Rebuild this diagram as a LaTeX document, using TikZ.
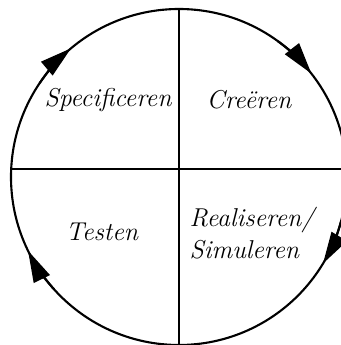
\documentclass[tikz,border=0pt]{standalone}
\usetikzlibrary{arrows.meta, calc}
\tikzset{
    >={Triangle[length=18pt, width=10pt]},
    fase/.style={font=\itshape\fontsize{14.7}{18.5}\selectfont, inner sep=0pt}
}
\begin{document}
\begin{tikzpicture}[x=0.02cm, y=0.02cm]
    \useasboundingbox (0,0) rectangle (341,345);
    \clip (0,0) rectangle (341,345);

    % Coordinates
    \coordinate (M) at (179, 168);
    \def\R{168}
    \coordinate (Boven) at (179, 336);
    \coordinate (Onder) at (179, -5);
    \coordinate (Links) at (11.2, 176);
    \coordinate (Rechts) at (350, 176);

    % Cycle
    \draw[line width=1.2pt] (M) circle (\R);

    % Quadrants
    \draw[line width=0.9pt] (Boven) -- (Onder);
    \draw[line width=0.9pt] (Links) -- (Rechts);

    % Arrow heads (clockwise)
    \foreach \hoek in {130, 38, -31, 206}
        \draw[->, line width=1.2pt] (M) ++(\hoek+16:\R) arc (\hoek+16:\hoek:\R);

    % Phases
    \node[fase] (spec) at (108, 245) {Specificeren};
    \node[fase] (creeer) at (249, 245) {Creëren};
    \node[fase] (test) at (102, 113) {Testen};
    \node[fase, align=left] (real) at (252, 112) {Realiseren/\\Simuleren};
\end{tikzpicture}
\end{document}
